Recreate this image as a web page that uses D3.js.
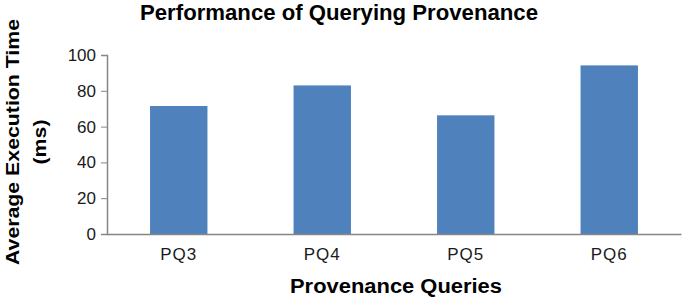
<!DOCTYPE html>
<html>
<head>
<meta charset="utf-8">
<script src="https://cdnjs.cloudflare.com/ajax/libs/d3/7.8.5/d3.min.js"></script>
<style>
  body { margin: 0; background: #fff; }
  text { font-family: "Liberation Sans", Arial, sans-serif; }
</style>
</head>
<body>
<div id="chart"></div>
<script>
// chart data
const categories = ["PQ3", "PQ4", "PQ5", "PQ6"];
const execTimes = [71.5, 83, 66.3, 94.2];
const yTicks = [0, 20, 40, 60, 80, 100];

const width = 685, height = 299;
const margin = { top: 55, right: 4, bottom: 65, left: 107 };

const svg = d3.select("#chart").append("svg")
    .attr("width", width)
    .attr("height", height);

const x = d3.scaleBand()
    .domain(categories)
    .range([margin.left, width - margin.right])
    .paddingInner(0.6)
    .paddingOuter(0.3);

const y = d3.scaleLinear()
    .domain([0, 100])
    .range([height - margin.bottom, margin.top]);

// bars
svg.append("g")
    .selectAll("rect")
    .data(execTimes)
    .enter().append("rect")
    .attr("x", (d, i) => x(categories[i]))
    .attr("y", d => y(d))
    .attr("width", x.bandwidth())
    .attr("height", d => y(0) - y(d))
    .attr("fill", "#4f81bd");

// y axis
const yAxis = svg.append("g")
    .attr("transform", `translate(${margin.left},0)`)
    .call(d3.axisLeft(y).tickValues(yTicks).tickSize(6).tickPadding(5));
yAxis.select(".domain").attr("stroke", "#868686").attr("stroke-width", 1.5);
yAxis.selectAll(".tick line").attr("stroke", "#868686");
yAxis.selectAll(".tick text").attr("font-size", "17px").attr("fill", "#1a1a1a");

// x axis
const xAxis = svg.append("g")
    .attr("transform", `translate(0,${y(0)})`)
    .call(d3.axisBottom(x).tickSize(0).tickPadding(14));
xAxis.select(".domain").attr("stroke", "#868686").attr("stroke-width", 1.5);
xAxis.selectAll(".tick text")
    .attr("font-size", "17px")
    .attr("letter-spacing", "1px")
    .attr("fill", "#1a1a1a");

// titles
svg.append("text")
    .attr("x", 339)
    .attr("y", 20)
    .attr("text-anchor", "middle")
    .attr("font-size", "22px")
    .attr("font-weight", "bold")
    .attr("textLength", 398)
    .attr("lengthAdjust", "spacingAndGlyphs")
    .text("Performance of Querying  Provenance");

svg.append("text")
    .attr("x", 396)
    .attr("y", 293)
    .attr("text-anchor", "middle")
    .attr("font-size", "20px")
    .attr("font-weight", "bold")
    .attr("textLength", 212)
    .attr("lengthAdjust", "spacingAndGlyphs")
    .text("Provenance Queries");

const yTitle = svg.append("text")
    .attr("transform", "translate(0,142) rotate(-90)")
    .attr("text-anchor", "middle")
    .attr("font-size", "19px")
    .attr("font-weight", "bold");
yTitle.append("tspan").attr("x", 0).attr("y", 19)
    .attr("textLength", 246).attr("lengthAdjust", "spacingAndGlyphs")
    .text("Average Execution Time");
yTitle.append("tspan").attr("x", 0).attr("y", 46)
    .attr("textLength", 45).attr("lengthAdjust", "spacingAndGlyphs")
    .text("(ms)");
</script>
</body>
</html>
